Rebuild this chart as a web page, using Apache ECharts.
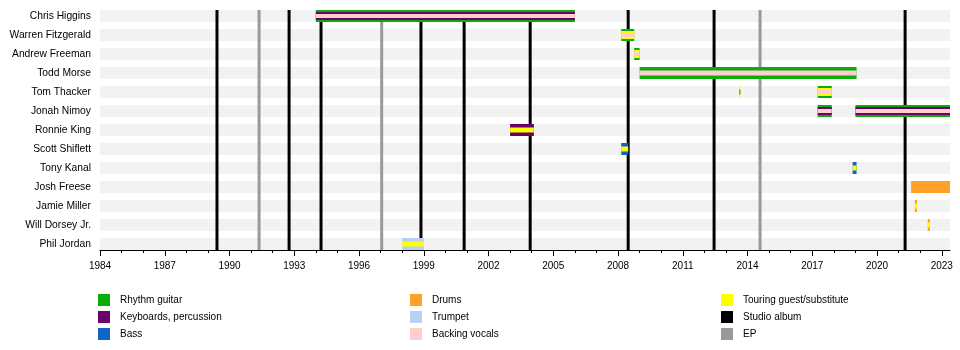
<!DOCTYPE html>
<html><head><meta charset="utf-8">
<script src="https://cdn.jsdelivr.net/npm/echarts@6/dist/echarts.min.js"></script>
<style>html,body{margin:0;padding:0;background:#fff}#c{width:960px;height:350px}</style>
</head><body><div id="c"></div>
<script>
// ---------- data ----------
const members = ['Chris Higgins','Warren Fitzgerald','Andrew Freeman','Todd Morse','Tom Thacker','Jonah Nimoy','Ronnie King','Scott Shiflett','Tony Kanal','Josh Freese','Jamie Miller','Will Dorsey Jr.','Phil Jordan'];
const roleNames = ['Rhythm guitar','Keyboards, percussion','Bass','Drums','Trumpet','Backing vocals','Touring guest/substitute'];
const roleColors = ['#0aac0a','#6a006a','#0f64c8','#ffa128','#b9cff7','#ffcfcf','#ffff00'];
// stints (outer role first, inner roles after)
const stintMember = [0, 1, 2, 3, 4, 4, 5, 5, 6, 7, 8, 9, 10, 11, 12];
const stintStart  = [1994.0, 2008.15, 2008.75, 2009.0, 2013.62, 2017.25, 2017.25, 2019.0, 2003.0, 2008.15, 2018.87, 2021.58, 2021.75, 2022.35, 1998.0];
const stintEnd    = [2006.0, 2008.75, 2009.0, 2019.05, 2013.67, 2017.9, 2017.9, 2023.38, 2004.1, 2008.47, 2019.05, 2023.38, 2021.85, 2022.45, 1999.0];
const stintRoles  = [
  ['Rhythm guitar','Keyboards, percussion','Backing vocals'],
  ['Rhythm guitar','Touring guest/substitute','Backing vocals'],
  ['Rhythm guitar','Touring guest/substitute','Backing vocals'],
  ['Rhythm guitar','Backing vocals'],
  ['Touring guest/substitute','Rhythm guitar'],
  ['Rhythm guitar','Touring guest/substitute','Backing vocals'],
  ['Rhythm guitar','Keyboards, percussion','Backing vocals'],
  ['Rhythm guitar','Keyboards, percussion','Backing vocals'],
  ['Keyboards, percussion','Touring guest/substitute'],
  ['Bass','Touring guest/substitute'],
  ['Bass','Touring guest/substitute'],
  ['Drums'],
  ['Drums','Touring guest/substitute'],
  ['Drums','Touring guest/substitute'],
  ['Trumpet','Touring guest/substitute']
];
const studioAlbums = [1989.42, 1992.76, 1994.24, 1998.87, 2000.87, 2003.93, 2008.47, 2012.45, 2021.3];
const eps = [1991.37, 1997.05, 2014.58];
const labelYears = [1984,1987,1990,1993,1996,1999,2002,2005,2008,2011,2014,2017,2020,2023];
const allYears = [1984,1985,1986,1987,1988,1989,1990,1991,1992,1993,1994,1995,1996,1997,1998,1999,2000,2001,2002,2003,2004,2005,2006,2007,2008,2009,2010,2011,2012,2013,2014,2015,2016,2017,2018,2019,2020,2021,2022,2023];
const timelineStart = 1984, timelineEnd = 2023.38;

// ---------- chart ----------
const FONT = '"Liberation Sans", Arial, sans-serif';
const colorOf = r => roleColors[roleNames.indexOf(r)];
const chart = echarts.init(document.getElementById('c'));

const BAR_H = 12;
const layerHeights = n => n === 1 ? [12] : n === 2 ? [12, 5] : [12, 8, 4];

function rowBounds(api) {
  const top = api.coord([timelineStart, 0])[1] - BAR_H / 2;
  const bottom = api.coord([timelineStart, members.length - 1])[1] + BAR_H / 2;
  return [top, bottom];
}

function lineSeries(name, years, color, width) {
  return {
    name, type: 'custom', xAxisIndex: 0, yAxisIndex: 0, z: 3,
    itemStyle: { color },
    silent: true,
    data: years.map(y => [y]),
    encode: { x: 0 },
    renderItem: (params, api) => {
      const x = api.coord([api.value(0), 0])[0];
      const [t, b] = rowBounds(api);
      return { type: 'rect', shape: { x: x - width / 2, y: t, width, height: b - t }, style: { fill: color } };
    }
  };
}

const legendBase = {
  orient: 'vertical', itemWidth: 12, itemHeight: 12, itemGap: 5, icon: 'rect',
  selectedMode: false, padding: 0, top: 294,
  textStyle: { fontSize: 10, color: '#000', fontFamily: FONT, padding: [0, 0, 0, 5] }
};

const option = {
  animation: false,
  backgroundColor: '#fff',
  grid: { left: 100, width: 850, top: 6.5, height: 247 },
  xAxis: [
    {
      type: 'value', min: timelineStart, max: timelineEnd, offset: -3.5,
      splitLine: { show: false },
      axisLine: { show: true, lineStyle: { color: '#000', width: 1 } },
      axisTick: { show: true, length: 6, lineStyle: { color: '#000' }, customValues: labelYears },
      axisLabel: { customValues: labelYears, fontSize: 10, color: '#000', fontFamily: FONT, margin: 11, formatter: v => String(v) }
    },
    {
      type: 'value', min: timelineStart, max: timelineEnd, offset: -3.5, position: 'bottom',
      splitLine: { show: false },
      axisLine: { show: false },
      axisTick: { show: true, length: 3, lineStyle: { color: '#000' }, customValues: allYears },
      axisLabel: { show: false }
    }
  ],
  yAxis: {
    type: 'category', data: members, inverse: true,
    axisLine: { show: false }, axisTick: { show: false }, splitLine: { show: false },
    axisLabel: { fontSize: 10.3, color: '#000', fontFamily: FONT, margin: 9, padding: [2, 0, 0, 0] }
  },
  legend: [
    Object.assign({}, legendBase, { left: 98, data: ['Rhythm guitar','Keyboards, percussion','Bass'] }),
    Object.assign({}, legendBase, { left: 410, data: ['Drums','Trumpet','Backing vocals'] }),
    Object.assign({}, legendBase, { left: 721, data: ['Touring guest/substitute','Studio album','EP'] })
  ],
  series: [
    // background stripes
    {
      type: 'custom', z: 1, silent: true,
      data: members.map((m, i) => [timelineStart, i]),
      encode: { x: 0, y: 1 },
      renderItem: (params, api) => {
        const p0 = api.coord([timelineStart, api.value(1)]);
        const p1 = api.coord([timelineEnd, api.value(1)]);
        return { type: 'rect', shape: { x: p0[0], y: p0[1] - BAR_H / 2, width: p1[0] - p0[0], height: BAR_H }, style: { fill: '#f2f2f2' } };
      }
    },
    lineSeries('Studio album', studioAlbums, '#000000', 3),
    lineSeries('EP', eps, '#999999', 3),
    // member bars
    {
      type: 'custom', z: 5, silent: true,
      data: stintMember.map((m, i) => [stintStart[i], m, stintEnd[i], i]),
      encode: { x: [0, 2], y: 1 },
      renderItem: (params, api) => {
        const idx = api.value(3);
        const p0 = api.coord([api.value(0), api.value(1)]);
        const p1 = api.coord([api.value(2), api.value(1)]);
        const w = Math.max(1, p1[0] - p0[0]);
        const rs = stintRoles[idx];
        const hs = layerHeights(rs.length);
        return {
          type: 'group',
          children: rs.map((r, k) => ({
            type: 'rect', z2: k,
            shape: { x: p0[0], y: p0[1] - hs[k] / 2, width: w, height: hs[k] },
            style: { fill: colorOf(r) }
          }))
        };
      }
    }
  ].concat(roleNames.map((r, i) => ({ name: r, type: 'bar', data: [], itemStyle: { color: roleColors[i] } })))
};
chart.setOption(option);
</script>
</body></html>
